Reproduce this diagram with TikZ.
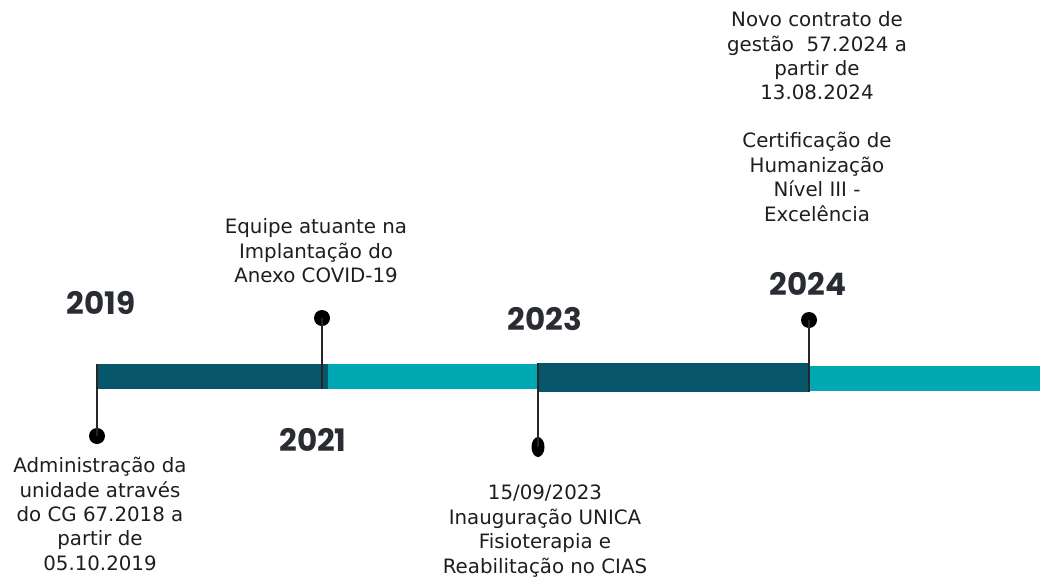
\documentclass[tikz,border=0pt]{standalone}
\usepackage{fontspec}
\setmainfont{DejaVu Sans}
\newfontfamily\yearfont{Poppins}
\usetikzlibrary{shapes.geometric}
\definecolor{barDark}{HTML}{08566A}
\definecolor{barLight}{HTML}{00A8B4}
\definecolor{yearCol}{HTML}{2A2C33}
\definecolor{txtCol}{HTML}{1E1E1E}
\tikzset{
  dot/.style={circle,fill=black,inner sep=0pt,minimum size=16pt},
  edot/.style={ellipse,fill=black,inner sep=0pt,minimum width=13pt,minimum height=20pt},
  stem/.style={draw=black!85,line width=1.8pt},
  year/.style={text=yearCol,font=\yearfont\bfseries\fontsize{31}{33}\selectfont,inner sep=0pt},
  desc/.style={text=txtCol,font=\fontsize{19.8}{24.4}\selectfont,align=center,inner sep=0pt}
}
\begin{document}
\begin{tikzpicture}[x=1pt,y=-1pt]
\useasboundingbox (0,0) rectangle (1043,581);
% bar
\fill[barDark] (97,364) rectangle (328,389);
\fill[barLight] (328,364) rectangle (538,389);
\fill[barDark] (538,363) rectangle (810,392);
\fill[barLight] (810,366) rectangle (1040,391);
% bar attachment points
\coordinate (b19) at (97,364);
\coordinate (b21) at (322,389);
\coordinate (b23) at (538,363);
\coordinate (b24) at (809,392);
% dots
\node[dot] (d19) at (97,436) {};
\node[dot] (d21) at (322,318) {};
\node[edot] (d23) at (538,447) {};
\node[dot] (d24) at (809,320) {};
% stems
\draw[stem] (d19.center) -- (b19);
\draw[stem] (d21.center) -- (b21);
\draw[stem] (d23.center) -- (b23);
\draw[stem] (d24.center) -- (b24);
% years
\node[year] (y19) at (101,303) {2019};
\node[year] (y21) at (313,440) {2021};
\node[year] (y23) at (545,319) {2023};
\node[year] (y24) at (808,284) {2024};
% descriptions
\node[desc] (t19) at (100,514) {Administração da\\unidade através\\do CG 67.2018 a\\partir de\\05.10.2019};
\node[desc] (t21) at (316,251) {Equipe atuante na\\Implantação do\\Anexo COVID-19};
\node[desc] (t23) at (545,531) {15/09/2023\\Inauguração UNICA\\Fisioterapia e\\Reabilitação no CIAS};
\node[desc] (t24a) at (817,56) {Novo contrato de\\gestão\ \ 57.2024 a\\partir de\\13.08.2024};
\node[desc] (t24b) at (817,177) {Certificação de\\Humanização\\Nível III -\\Excelência};
\end{tikzpicture}
\end{document}
